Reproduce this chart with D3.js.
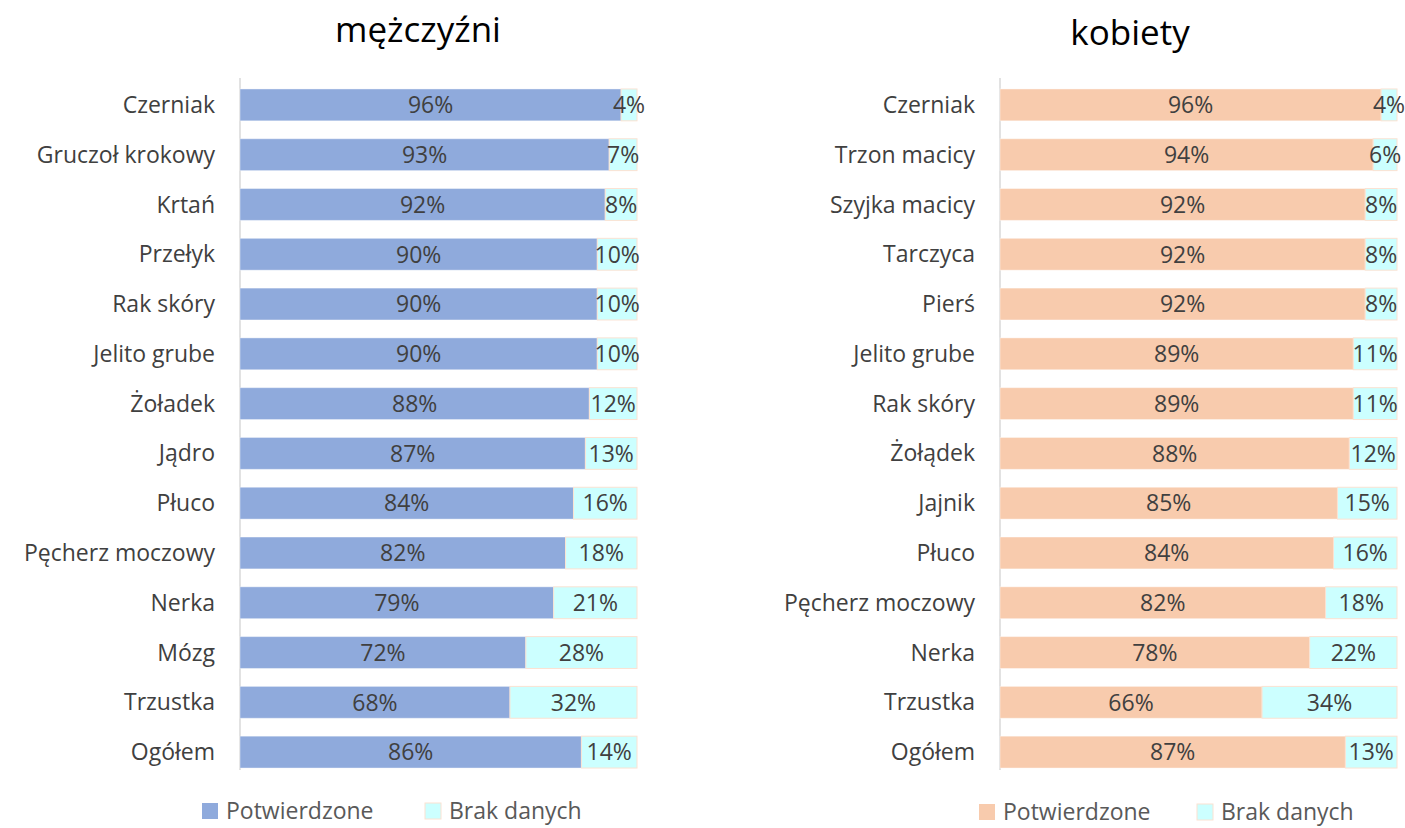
<!DOCTYPE html>
<html>
<head>
<meta charset="utf-8">
<script src="https://cdn.jsdelivr.net/npm/d3@7"></script>
<style>
  body { margin: 0; background: #fff; }
</style>
</head>
<body>
<div id="chart"></div>
<script>
const width = 1405
const height = 828

const men_categories = ['Czerniak', 'Gruczoł krokowy', 'Krtań', 'Przełyk', 'Rak skóry', 'Jelito grube', 'Żoładek',
    'Jądro', 'Płuco', 'Pęcherz moczowy', 'Nerka', 'Mózg', 'Trzustka', 'Ogółem']
const men_confirmed = [96, 93, 92, 90, 90, 90, 88, 87, 84, 82, 79, 72, 68, 86]
const men_missing = [4, 7, 8, 10, 10, 10, 12, 13, 16, 18, 21, 28, 32, 14]

const women_categories = ['Czerniak', 'Trzon macicy', 'Szyjka macicy', 'Tarczyca', 'Pierś', 'Jelito grube', 'Rak skóry',
    'Żołądek', 'Jajnik', 'Płuco', 'Pęcherz moczowy', 'Nerka', 'Trzustka', 'Ogółem']
const women_confirmed = [96, 94, 92, 92, 92, 89, 89, 88, 85, 84, 82, 78, 66, 87]
const women_missing = [4, 6, 8, 8, 8, 11, 11, 12, 15, 16, 18, 22, 34, 13]

const series_names = ['Potwierdzone', 'Brak danych']

const font = '"Open Sans", sans-serif'
const font_size = 23
const text_color = '#404040'

const svg = d3.select('#chart')
    .append('svg')
    .attr('width', width)
    .attr('height', height)
    .style('font-family', font)

function draw_panel(opts) {
    const x = d3.scaleLinear().domain([0, 100]).range([opts.left, opts.left + 397])
    const y = d3.scaleBand().domain(opts.categories).range([80, 777]).paddingInner(0.36).paddingOuter(0.18)
    const g = svg.append('g')

    // title
    g.append('text')
        .attr('x', opts.title_x)
        .attr('y', opts.title_y)
        .attr('text-anchor', 'middle')
        .attr('font-size', 35)
        .attr('fill', '#000')
        .text(opts.title)

    // axis line
    g.append('line')
        .attr('x1', opts.left).attr('x2', opts.left)
        .attr('y1', 78).attr('y2', 770)
        .attr('stroke', '#d9d9d9')
        .attr('stroke-width', 1.5)

    const rows = opts.categories.map((c, i) => ({ cat: c, a: opts.confirmed[i], b: opts.missing[i] }))

    // category labels
    g.selectAll('.cat')
        .data(rows)
        .enter()
        .append('text')
        .attr('x', opts.left - 25)
        .attr('y', d => y(d.cat) + y.bandwidth() / 2)
        .attr('dy', '0.35em')
        .attr('text-anchor', 'end')
        .attr('font-size', font_size)
        .attr('fill', text_color)
        .text(d => d.cat)

    // confirmed
    g.selectAll('.bar_a')
        .data(rows)
        .enter()
        .append('rect')
        .attr('x', x(0))
        .attr('y', d => y(d.cat))
        .attr('width', d => x(d.a) - x(0))
        .attr('height', y.bandwidth())
        .attr('fill', opts.color)
        .attr('stroke', '#fff')
        .attr('stroke-opacity', 0.4)

    // missing
    g.selectAll('.bar_b')
        .data(rows)
        .enter()
        .append('rect')
        .attr('x', d => x(d.a))
        .attr('y', d => y(d.cat))
        .attr('width', d => x(d.a + d.b) - x(d.a))
        .attr('height', y.bandwidth())
        .attr('fill', '#ccffff')
        .attr('stroke', '#fbe2d2')
        .attr('stroke-width', 1)

    // value labels
    g.selectAll('.lab_a')
        .data(rows)
        .enter()
        .append('text')
        .attr('x', d => (x(0) + x(d.a)) / 2)
        .attr('y', d => y(d.cat) + y.bandwidth() / 2)
        .attr('dy', '0.36em')
        .attr('text-anchor', 'middle')
        .attr('font-size', font_size)
        .attr('fill', text_color)
        .text(d => d.a + '%')

    g.selectAll('.lab_b')
        .data(rows)
        .enter()
        .append('text')
        .attr('x', d => (x(d.a) + x(d.a + d.b)) / 2)
        .attr('y', d => y(d.cat) + y.bandwidth() / 2)
        .attr('dy', '0.36em')
        .attr('text-anchor', 'middle')
        .attr('font-size', font_size)
        .attr('fill', text_color)
        .text(d => d.b + '%')

    // legend
    const legend_colors = [opts.color, '#ccffff']
    const legend_x = [opts.legend_x, opts.legend_x + opts.legend_gap]
    series_names.forEach((name, i) => {
        g.append('rect')
            .attr('x', legend_x[i])
            .attr('y', opts.legend_y - 8)
            .attr('width', 16)
            .attr('height', 16)
            .attr('fill', legend_colors[i])
            .attr('stroke', i === 1 ? '#fbe2d2' : 'none')
        g.append('text')
            .attr('x', legend_x[i] + 24)
            .attr('y', opts.legend_y)
            .attr('dy', '0.36em')
            .attr('font-size', font_size)
            .attr('fill', '#595959')
            .text(name)
    })
}

draw_panel({
    left: 240, title: 'mężczyźni', title_x: 418, title_y: 42,
    categories: men_categories, confirmed: men_confirmed, missing: men_missing,
    color: '#8faadc', legend_x: 202, legend_gap: 223, legend_y: 811
})

draw_panel({
    left: 1000, title: 'kobiety', title_x: 1130, title_y: 45,
    categories: women_categories, confirmed: women_confirmed, missing: women_missing,
    color: '#f8cbad', legend_x: 979, legend_gap: 218, legend_y: 812
})
</script>
</body>
</html>
